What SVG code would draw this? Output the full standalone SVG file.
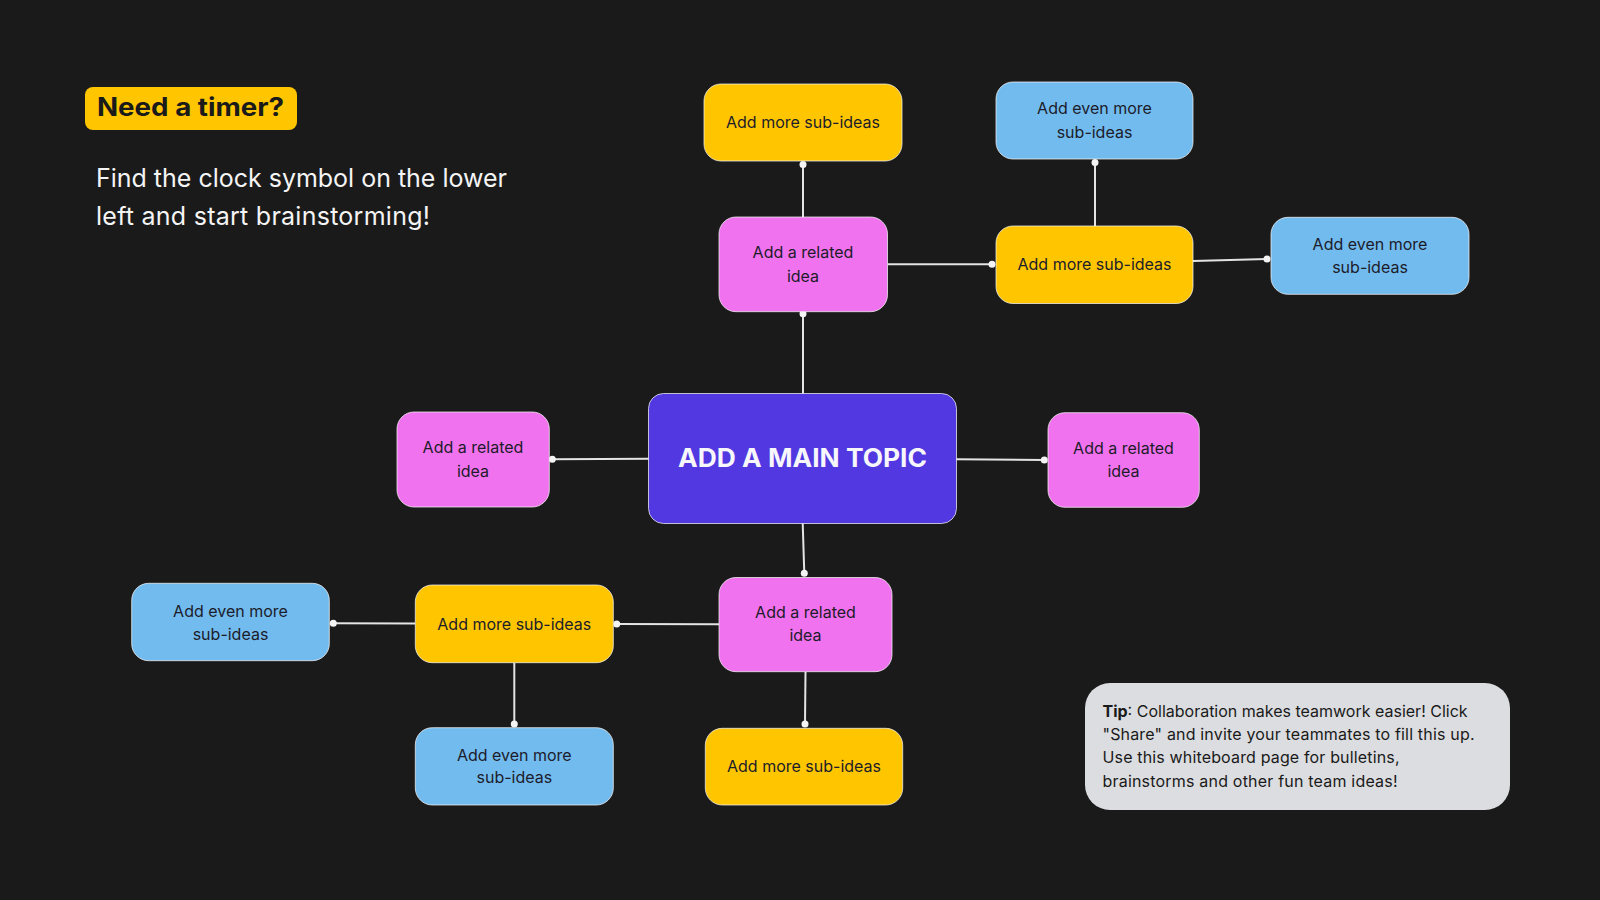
<svg xmlns="http://www.w3.org/2000/svg" width="1600" height="900" viewBox="0 0 1600 900">
<style>
.bg{fill:#1a1a1a}
.node{stroke:#f2f2f2;stroke-opacity:0.75;stroke-width:1}
.yellow{fill:#ffc600}
.blue{fill:#72bbef}
.pink{fill:#f172ee}
.main{fill:#5138e1}
.t{font-family:Inter,"Liberation Sans",sans-serif;font-size:16px;fill:#1c1c2a;text-anchor:middle}
.conn line{stroke:#e4e4e4;stroke-width:2}
.conn circle{fill:#f4f4f4}
</style>
<rect class="bg" x="0" y="0" width="1600" height="900"/>

<g id="timer">
<rect x="85" y="87" width="212" height="43" rx="8" fill="#ffc600"/>
<text x="97" y="116" font-family="Inter,'Liberation Sans',sans-serif" font-size="25" font-weight="700" fill="#1a1a1a" textLength="187" lengthAdjust="spacingAndGlyphs">Need a timer?</text>
</g>
<g id="intro">
<text font-family="Inter,'Liberation Sans',sans-serif" font-size="25" fill="#f4f4f4">
<tspan x="96" y="186.5" textLength="411">Find the clock symbol on the lower</tspan>
<tspan x="96" y="225" textLength="334">left and start brainstorming!</tspan>
</text>
</g>

<g id="connectors" class="conn">
<line x1="803" y1="217" x2="803" y2="164.5"/><circle cx="803" cy="164.5" r="3.5"/>
<line x1="803" y1="394" x2="803" y2="313.7"/><circle cx="803" cy="313.7" r="3.5"/>
<line x1="888" y1="264.3" x2="992" y2="264.3"/><circle cx="992" cy="264.3" r="3.5"/>
<line x1="1095" y1="226" x2="1095" y2="162.5"/><circle cx="1095" cy="162.5" r="3.5"/>
<line x1="1193" y1="261" x2="1267" y2="259"/><circle cx="1267" cy="259" r="3.5"/>
<line x1="649" y1="458.8" x2="552.3" y2="459.3"/><circle cx="552.3" cy="459.3" r="3.5"/>
<line x1="956" y1="459.3" x2="1044.3" y2="460"/><circle cx="1044.3" cy="460" r="3.5"/>
<line x1="802.7" y1="523" x2="804.3" y2="573.3"/><circle cx="804.3" cy="573.3" r="3.5"/>
<line x1="719" y1="624.3" x2="616.7" y2="624"/><circle cx="616.7" cy="624" r="3.5"/>
<line x1="805.5" y1="672" x2="805" y2="724"/><circle cx="805" cy="724" r="3.5"/>
<line x1="415" y1="623.5" x2="333.3" y2="623.3"/><circle cx="333.3" cy="623.3" r="3.5"/>
<line x1="514.3" y1="663" x2="514.3" y2="724"/><circle cx="514.3" cy="724" r="3.5"/>
</g>

<g id="sub-top">
<rect class="node yellow" x="704" y="84" width="198" height="77" rx="17"/>
<text class="t" x="803" y="128.3">Add more sub-ideas</text>
</g>
<g id="even-top">
<rect class="node blue" x="996" y="82" width="197" height="77" rx="17"/>
<text class="t" x="1094.5" y="114.3">Add even more</text>
<text class="t" x="1094.5" y="137.7">sub-ideas</text>
</g>
<g id="related-top">
<rect class="node pink" x="719" y="217" width="168.5" height="94.7" rx="17"/>
<text class="t" x="803" y="258.3">Add a related</text>
<text class="t" x="803" y="281.7">idea</text>
</g>
<g id="sub-right">
<rect class="node yellow" x="996" y="226" width="197" height="77.5" rx="17"/>
<text class="t" x="1094.5" y="270">Add more sub-ideas</text>
</g>
<g id="even-right">
<rect class="node blue" x="1271" y="217.3" width="198" height="77" rx="17"/>
<text class="t" x="1370" y="250">Add even more</text>
<text class="t" x="1370" y="273.3">sub-ideas</text>
</g>
<g id="main-topic">
<rect class="node main" x="648.5" y="393.5" width="308" height="130" rx="15"/>
<text x="802.5" y="467.3" font-family="Inter,'Liberation Sans',sans-serif" font-size="25" font-weight="700" fill="#f6f6fb" text-anchor="middle" textLength="249" lengthAdjust="spacingAndGlyphs">ADD A MAIN TOPIC</text>
</g>
<g id="related-left">
<rect class="node pink" x="397" y="412" width="152.3" height="95" rx="17"/>
<text class="t" x="473" y="453.3">Add a related</text>
<text class="t" x="473" y="476.7">idea</text>
</g>
<g id="related-right">
<rect class="node pink" x="1048" y="412.7" width="151.3" height="94.6" rx="17"/>
<text class="t" x="1123.5" y="453.5">Add a related</text>
<text class="t" x="1123.5" y="477">idea</text>
</g>
<g id="related-bottom">
<rect class="node pink" x="719" y="577.5" width="173" height="94.2" rx="17"/>
<text class="t" x="805.5" y="618.3">Add a related</text>
<text class="t" x="805.5" y="640.7">idea</text>
</g>
<g id="sub-left">
<rect class="node yellow" x="415.3" y="585" width="198" height="77.7" rx="17"/>
<text class="t" x="514.3" y="630">Add more sub-ideas</text>
</g>
<g id="even-left">
<rect class="node blue" x="131.7" y="583.3" width="197.6" height="77.4" rx="17"/>
<text class="t" x="230.5" y="616.7">Add even more</text>
<text class="t" x="230.5" y="640">sub-ideas</text>
</g>
<g id="even-bottom">
<rect class="node blue" x="415.3" y="727.7" width="198" height="77.3" rx="17"/>
<text class="t" x="514.3" y="760.7">Add even more</text>
<text class="t" x="514.3" y="783.3">sub-ideas</text>
</g>
<g id="sub-bottom">
<rect class="node yellow" x="705.3" y="728.3" width="197.4" height="76.7" rx="17"/>
<text class="t" x="804" y="772.3">Add more sub-ideas</text>
</g>

<g id="tip">
<rect x="1085" y="683" width="425" height="127" rx="25" fill="#dcdde0"/>
<text font-family="Inter,'Liberation Sans',sans-serif" font-size="16" fill="#1a1a1a">
<tspan x="1102.5" y="716.7"><tspan font-weight="700">Tip</tspan>: Collaboration makes teamwork easier! Click</tspan>
<tspan x="1102.5" y="740" textLength="372">"Share" and invite your teammates to fill this up.</tspan>
<tspan x="1102.5" y="763.3" textLength="297">Use this whiteboard page for bulletins,</tspan>
<tspan x="1102.5" y="786.7" textLength="295">brainstorms and other fun team ideas!</tspan>
</text>
</g>
</svg>
